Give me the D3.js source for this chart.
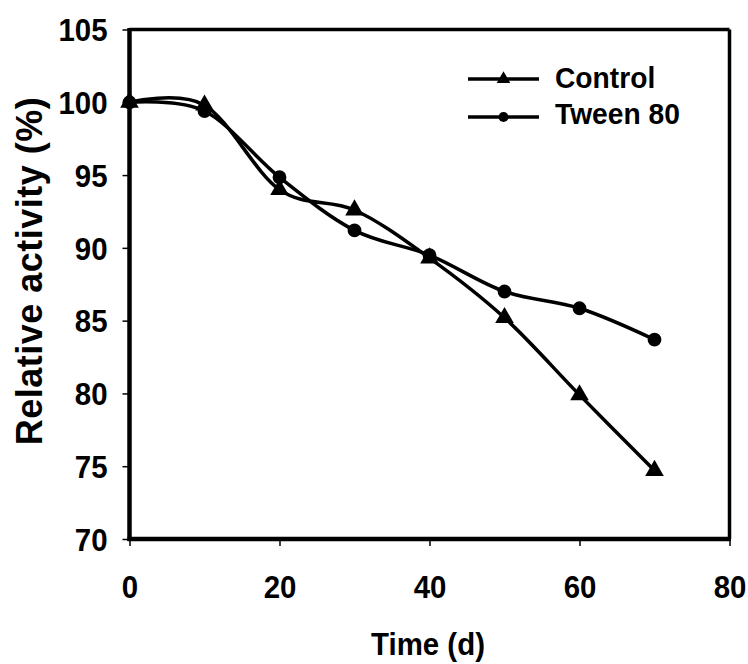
<!DOCTYPE html>
<html>
<head>
<meta charset="utf-8">
<script src="https://cdn.jsdelivr.net/npm/d3@7"></script>
<style>
  html, body { margin: 0; padding: 0; background: #fff; }
  svg { display: block; }
  text { font-family: "Liberation Sans", Arial, sans-serif; font-weight: bold; fill: #000; }
</style>
</head>
<body>
<svg id="chart" width="748" height="664"></svg>
<script>
const times = [0, 10, 20, 30, 40, 50, 60, 70];
const controlValues = [100, 99.8, 94.0, 92.6, 89.3, 85.2, 79.9, 74.7];
const tweenValues = [100, 99.4, 94.85, 91.2, 89.5, 87.0, 85.85, 83.7];
const seriesNames = ["Control", "Tween 80"];
const xTicks = [0, 20, 40, 60, 80];
const yTicks = [70, 75, 80, 85, 90, 95, 100, 105];

const svg = d3.select("#chart");
const pLeft = 129.5, pRight = 729.5, pTop = 29.5, pBottom = 539;

const x = d3.scaleLinear().domain([0, 80]).range([pLeft, pRight]);
const y = d3.scaleLinear().domain([70, 105]).range([pBottom, pTop]);

// Frame (top and right)
svg.append("line").attr("x1", pLeft).attr("x2", pRight).attr("y1", pTop).attr("y2", pTop)
  .attr("stroke", "#000").attr("stroke-width", 3.5);
svg.append("line").attr("x1", pRight).attr("x2", pRight).attr("y1", pTop).attr("y2", pBottom)
  .attr("stroke", "#000").attr("stroke-width", 3.5);

// Y axis
const yAxis = svg.append("g").attr("transform", `translate(${pLeft},0)`)
  .call(d3.axisLeft(y).tickValues(yTicks).tickSize(7).tickPadding(0).tickFormat(d3.format("d")));
yAxis.select(".domain").remove();
yAxis.selectAll(".tick line").attr("stroke", "#000").attr("stroke-width", 1.5);
yAxis.selectAll(".tick text").remove();
yAxis.selectAll(".tick").append("text")
  .attr("text-anchor", "end")
  .attr("dy", "0.35em")
  .attr("transform", "translate(-22,0) scale(0.92,1)")
  .style("font-size", "32px")
  .text(d => d);

// X axis
const xAxis = svg.append("g").attr("transform", `translate(0,${pBottom})`)
  .call(d3.axisBottom(x).tickValues(xTicks).tickSize(7).tickPadding(0).tickFormat(d3.format("d")));
xAxis.select(".domain").remove();
xAxis.selectAll(".tick line").attr("stroke", "#000").attr("stroke-width", 1.5);
xAxis.selectAll(".tick text").remove();
xAxis.selectAll(".tick").append("text")
  .attr("text-anchor", "middle")
  .attr("transform", "translate(0,59) scale(0.92,1)")
  .style("font-size", "32px")
  .text(d => d);

// Axis lines (thick)
svg.append("line").attr("x1", pLeft).attr("x2", pLeft).attr("y1", pTop - 1.5).attr("y2", pBottom + 2)
  .attr("stroke", "#000").attr("stroke-width", 4.5);
svg.append("line").attr("x1", pLeft - 2).attr("x2", pRight + 1.5).attr("y1", pBottom).attr("y2", pBottom)
  .attr("stroke", "#000").attr("stroke-width", 4.5);

// Titles
svg.append("text")
  .attr("text-anchor", "middle")
  .attr("transform", `translate(428,655) scale(0.92,1)`)
  .style("font-size", "32px")
  .text("Time (d)");

svg.append("text")
  .attr("text-anchor", "middle")
  .attr("transform", `translate(42,271) rotate(-90)`)
  .style("font-size", "36px")
  .style("letter-spacing", "0.5px")
  .text("Relative activity (%)");

// Series
const line = d3.line()
  .x(d => x(d[0])).y(d => y(d[1]))
  .curve(d3.curveCatmullRom.alpha(0));

const controlData = times.map((t, i) => [t, controlValues[i]]);
const tweenData = times.map((t, i) => [t, tweenValues[i]]);

const triSym = d3.symbol().type(d3.symbolTriangle);
const circSym = d3.symbol().type(d3.symbolCircle);

function drawSeries(data, sym, size) {
  svg.append("path").datum(data).attr("d", line)
    .attr("fill", "none").attr("stroke", "#000").attr("stroke-width", 3.5)
    .attr("stroke-linejoin", "round");
  svg.append("g").selectAll("path").data(data).join("path")
    .attr("transform", d => `translate(${x(d[0])},${y(d[1])})`)
    .attr("d", sym.size(size)())
    .attr("fill", "#000");
}
drawSeries(tweenData, circSym, 150);
drawSeries(controlData, triSym, 150);

// Legend
const legendRows = [
  { name: seriesNames[0], sym: triSym, y: 79, base: 88 },
  { name: seriesNames[1], sym: circSym, y: 117, base: 124 }
];
legendRows.forEach(r => {
  svg.append("line").attr("x1", 468).attr("x2", 539).attr("y1", r.y).attr("y2", r.y)
    .attr("stroke", "#000").attr("stroke-width", 3.5);
  svg.append("path").attr("transform", `translate(503.5,${r.y})`)
    .attr("d", r.sym.size(80)()).attr("fill", "#000");
  svg.append("text").attr("transform", `translate(555,${r.base}) scale(0.94,1)`)
    .style("font-size", "30px")
    .text(r.name);
});
</script>
</body>
</html>
